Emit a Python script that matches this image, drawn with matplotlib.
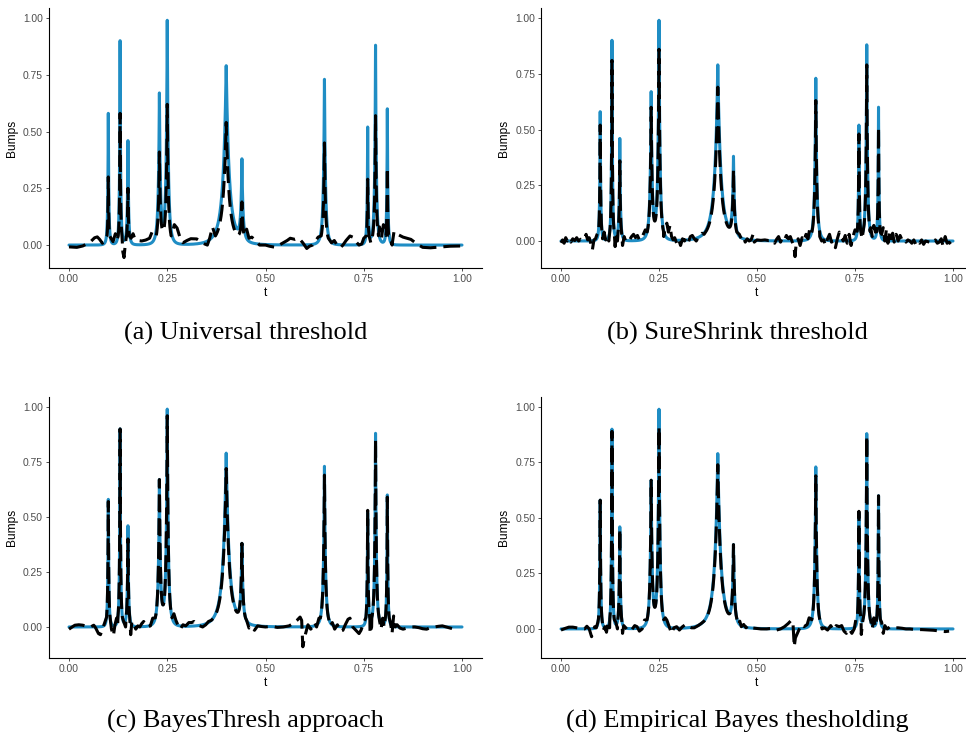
import numpy as np
import matplotlib
matplotlib.use("Agg")
import matplotlib.pyplot as plt

# Bumps test function: bump positions, widths and the peak heights seen in the plot
peak_t = [0.10, 0.13, 0.15, 0.23, 0.25, 0.40, 0.44, 0.65, 0.76, 0.78, 0.81]
peak_w = [0.005, 0.005, 0.006, 0.01, 0.01, 0.03, 0.01, 0.01, 0.005, 0.008, 0.005]
true_peaks = [0.58, 0.90, 0.46, 0.67, 0.99, 0.79, 0.38, 0.73, 0.52, 0.88, 0.60]

# peak heights of the thresholded estimates
est_peaks_a = [0.30, 0.58, 0.25, 0.41, 0.62, 0.54, 0.19, 0.45, 0.29, 0.57, 0.34]
est_peaks_b = [0.52, 0.81, 0.36, 0.60, 0.86, 0.69, 0.32, 0.63, 0.48, 0.79, 0.51]
est_peaks_c = [0.57, 0.90, 0.40, 0.67, 0.96, 0.72, 0.38, 0.69, 0.53, 0.85, 0.59]
est_peaks_d = [0.58, 0.89, 0.45, 0.67, 0.91, 0.74, 0.38, 0.69, 0.53, 0.87, 0.60]

# (t, value) of the estimates away from the peaks
wiggle_a = [(0.000, -0.008), (0.020, -0.010), (0.035, -0.004), (0.045, 0.005), (0.055, 0.015),
            (0.065, 0.032), (0.072, 0.036), (0.078, 0.025), (0.085, 0.008), (0.090, 0.015),
            (0.112, 0.015), (0.118, 0.050), (0.122, 0.020), (0.137, -0.030), (0.140, -0.055),
            (0.143, 0.000), (0.158, 0.030), (0.163, 0.050), (0.168, 0.025), (0.175, 0.020),
            (0.185, 0.018), (0.195, 0.022), (0.205, 0.030), (0.212, 0.060), (0.258, 0.015),
            (0.264, 0.060), (0.268, 0.090), (0.275, 0.075), (0.283, 0.030), (0.290, 0.010),
            (0.300, 0.020), (0.310, 0.028), (0.325, 0.027), (0.335, 0.015), (0.345, 0.005),
            (0.352, 0.000), (0.358, 0.030), (0.365, 0.080), (0.452, 0.070), (0.458, 0.030),
            (0.465, 0.035), (0.475, 0.020), (0.485, 0.000), (0.500, 0.000), (0.510, -0.005),
            (0.525, -0.010), (0.540, 0.005), (0.555, 0.020), (0.563, 0.030), (0.575, 0.025),
            (0.585, 0.030), (0.595, 0.010), (0.605, -0.015), (0.612, -0.005), (0.620, 0.000),
            (0.628, 0.020), (0.634, 0.035), (0.660, 0.030), (0.668, 0.010), (0.675, 0.020),
            (0.682, 0.000), (0.690, -0.012), (0.697, 0.000), (0.705, 0.020), (0.715, 0.040),
            (0.722, 0.035), (0.730, 0.015), (0.738, 0.000), (0.745, 0.005), (0.750, 0.030),
            (0.768, 0.010), (0.790, 0.080), (0.795, 0.030), (0.800, 0.090), (0.804, 0.050),
            (0.818, 0.040), (0.822, 0.000), (0.827, 0.060), (0.833, 0.050), (0.850, 0.035),
            (0.860, 0.030), (0.870, 0.025), (0.880, 0.012), (0.890, 0.000), (0.900, -0.010),
            (0.920, -0.012), (0.950, -0.008), (0.970, -0.005), (1.000, -0.004)]

wiggle_b = [(0.000, -0.008), (0.004, 0.005), (0.008, -0.010), (0.012, 0.015), (0.016, 0.000),
            (0.020, 0.012), (0.025, -0.005), (0.030, 0.010), (0.035, 0.002), (0.040, 0.015),
            (0.045, 0.000), (0.050, 0.008), (0.055, 0.003), (0.060, 0.012), (0.064, 0.030),
            (0.068, 0.005), (0.072, 0.015), (0.076, -0.010), (0.080, -0.040), (0.084, 0.005),
            (0.088, 0.010), (0.092, 0.030), (0.106, 0.010), (0.110, 0.040), (0.114, 0.005),
            (0.118, 0.020), (0.122, 0.000), (0.138, -0.025), (0.141, 0.030), (0.144, 0.000),
            (0.157, -0.020), (0.161, 0.020), (0.165, 0.000), (0.170, 0.010), (0.175, 0.005),
            (0.180, 0.020), (0.185, 0.030), (0.190, 0.015), (0.195, 0.025), (0.200, 0.005),
            (0.205, 0.010), (0.210, 0.030), (0.215, 0.050), (0.262, 0.020), (0.266, 0.060),
            (0.270, 0.080), (0.274, 0.040), (0.278, 0.070), (0.282, 0.020), (0.286, 0.005),
            (0.290, 0.015), (0.295, -0.010), (0.300, 0.008), (0.305, -0.020), (0.310, 0.010),
            (0.315, 0.000), (0.320, 0.015), (0.325, -0.005), (0.330, 0.020), (0.335, 0.025),
            (0.340, 0.010), (0.345, 0.000), (0.350, 0.015), (0.355, 0.020), (0.360, 0.035),
            (0.365, 0.030), (0.370, 0.060), (0.455, 0.030), (0.460, 0.010), (0.465, 0.020),
            (0.470, -0.005), (0.475, 0.010), (0.480, 0.000), (0.485, 0.005), (0.490, 0.030),
            (0.493, -0.005), (0.500, 0.005), (0.510, 0.003), (0.520, 0.005), (0.530, 0.002),
            (0.540, 0.003), (0.545, -0.010), (0.550, 0.008), (0.555, 0.020), (0.560, -0.005),
            (0.565, 0.015), (0.570, 0.005), (0.575, 0.025), (0.580, 0.010), (0.585, 0.020),
            (0.590, -0.005), (0.594, -0.020), (0.597, -0.070), (0.600, -0.010), (0.605, 0.010),
            (0.610, -0.020), (0.615, 0.015), (0.620, 0.000), (0.625, 0.030), (0.630, 0.010),
            (0.634, 0.050), (0.638, 0.030), (0.660, 0.020), (0.665, 0.000), (0.670, 0.005),
            (0.675, -0.020), (0.680, 0.010), (0.685, 0.030), (0.690, -0.005), (0.695, 0.000),
            (0.700, -0.030), (0.705, 0.010), (0.710, 0.040), (0.715, 0.020), (0.720, 0.000),
            (0.725, 0.025), (0.730, -0.010), (0.735, 0.030), (0.740, -0.020), (0.745, 0.020),
            (0.750, 0.050), (0.768, 0.010), (0.790, 0.060), (0.794, 0.020), (0.798, 0.070),
            (0.802, 0.040), (0.818, 0.030), (0.822, 0.060), (0.826, 0.000), (0.830, 0.050),
            (0.834, -0.010), (0.838, 0.040), (0.842, 0.010), (0.846, 0.035), (0.850, -0.005),
            (0.855, 0.030), (0.860, 0.000), (0.865, 0.025), (0.870, 0.005), (0.875, 0.010),
            (0.880, -0.005), (0.885, 0.005), (0.890, 0.000), (0.895, -0.010), (0.900, 0.005),
            (0.905, -0.015), (0.910, 0.000), (0.915, -0.010), (0.920, 0.005), (0.925, -0.015),
            (0.930, 0.000), (0.940, -0.005), (0.945, -0.010), (0.950, -0.005), (0.955, 0.005),
            (0.960, -0.010), (0.965, -0.005), (0.970, 0.010), (0.975, -0.025), (0.980, 0.020),
            (0.985, -0.010), (0.990, -0.005), (0.995, -0.015), (1.000, -0.005)]

wiggle_c = [(0.000, -0.010), (0.008, 0.000), (0.015, 0.008), (0.025, 0.010), (0.035, 0.008),
            (0.045, 0.003), (0.055, 0.000), (0.063, 0.008), (0.068, -0.005), (0.075, -0.030),
            (0.080, -0.035), (0.085, -0.010), (0.090, 0.015), (0.108, -0.010), (0.113, -0.040),
            (0.117, 0.010), (0.121, 0.040), (0.124, 0.010), (0.135, -0.040), (0.140, 0.020),
            (0.144, 0.000), (0.157, -0.035), (0.160, 0.025), (0.165, 0.010), (0.170, -0.010),
            (0.175, 0.005), (0.180, 0.000), (0.185, 0.015), (0.190, 0.025), (0.195, 0.010),
            (0.200, 0.000), (0.207, 0.005), (0.213, 0.040), (0.262, 0.020), (0.267, 0.060),
            (0.272, 0.030), (0.278, 0.005), (0.283, -0.010), (0.290, 0.010), (0.297, 0.005),
            (0.305, 0.020), (0.312, 0.020), (0.318, 0.025), (0.325, 0.010), (0.333, 0.005),
            (0.340, 0.000), (0.348, 0.010), (0.355, 0.025), (0.362, 0.030), (0.368, 0.040),
            (0.452, 0.030), (0.458, -0.005), (0.465, 0.005), (0.472, -0.015), (0.480, 0.005),
            (0.490, 0.002), (0.500, 0.000), (0.515, 0.003), (0.530, -0.002), (0.545, 0.000),
            (0.560, 0.005), (0.570, 0.015), (0.580, 0.030), (0.588, 0.045), (0.592, 0.030),
            (0.595, -0.090), (0.598, -0.060), (0.602, -0.030), (0.608, 0.010), (0.615, -0.010),
            (0.620, 0.000), (0.625, 0.020), (0.630, 0.000), (0.636, 0.040), (0.660, 0.020),
            (0.665, 0.005), (0.670, 0.020), (0.676, -0.010), (0.683, 0.010), (0.690, -0.020),
            (0.697, -0.015), (0.703, 0.010), (0.710, 0.035), (0.715, 0.040), (0.722, 0.000),
            (0.730, -0.015), (0.738, -0.030), (0.743, -0.015), (0.750, 0.020), (0.766, -0.030),
            (0.770, 0.000), (0.790, 0.030), (0.794, -0.010), (0.798, 0.040), (0.802, 0.000),
            (0.818, 0.020), (0.822, -0.030), (0.826, 0.050), (0.830, 0.000), (0.835, 0.010),
            (0.842, -0.005), (0.850, -0.010), (0.860, -0.005), (0.870, 0.000), (0.880, 0.000),
            (0.890, -0.003), (0.900, -0.008), (0.910, -0.010), (0.920, -0.003), (0.930, 0.000),
            (0.940, 0.003), (0.950, 0.005), (0.960, 0.000), (0.970, -0.005), (0.980, -0.010),
            (0.990, -0.012)]

wiggle_d = [(0.000, -0.005), (0.010, 0.002), (0.020, 0.008), (0.030, 0.008), (0.040, 0.005),
            (0.050, 0.002), (0.060, 0.000), (0.066, 0.012), (0.072, 0.000), (0.078, -0.035),
            (0.082, -0.010), (0.086, 0.010), (0.090, 0.005), (0.094, 0.030), (0.108, -0.005),
            (0.112, 0.010), (0.116, -0.015), (0.120, 0.030), (0.124, 0.005), (0.136, -0.030),
            (0.140, 0.030), (0.144, 0.000), (0.157, -0.020), (0.160, 0.015), (0.165, 0.005),
            (0.172, -0.010), (0.180, -0.005), (0.188, 0.015), (0.194, 0.010), (0.200, -0.010),
            (0.207, 0.000), (0.213, 0.040), (0.262, 0.030), (0.266, 0.050), (0.270, 0.040),
            (0.276, 0.010), (0.282, -0.020), (0.288, 0.005), (0.295, 0.010), (0.302, -0.005),
            (0.310, 0.010), (0.318, 0.020), (0.325, 0.010), (0.333, 0.005), (0.340, 0.005),
            (0.350, 0.015), (0.358, 0.025), (0.365, 0.035), (0.370, 0.050), (0.452, 0.020),
            (0.456, 0.035), (0.460, 0.010), (0.466, 0.020), (0.472, 0.005), (0.478, 0.015),
            (0.485, 0.005), (0.495, 0.003), (0.510, 0.000), (0.525, 0.000), (0.540, 0.003),
            (0.550, -0.005), (0.560, 0.000), (0.570, 0.010), (0.580, 0.025), (0.588, 0.040),
            (0.592, 0.020), (0.595, -0.080), (0.598, -0.040), (0.603, -0.020), (0.608, 0.000),
            (0.614, 0.020), (0.620, 0.010), (0.628, 0.020), (0.633, 0.050), (0.660, 0.010),
            (0.666, 0.000), (0.672, 0.005), (0.680, -0.005), (0.688, 0.015), (0.695, -0.005),
            (0.702, 0.015), (0.710, 0.010), (0.716, 0.015), (0.722, -0.010), (0.728, -0.020),
            (0.735, 0.000), (0.742, -0.020), (0.748, 0.000), (0.752, 0.040), (0.766, -0.025),
            (0.770, 0.000), (0.790, 0.040), (0.794, 0.000), (0.798, 0.050), (0.802, 0.010),
            (0.818, 0.030), (0.822, -0.020), (0.826, 0.015), (0.832, 0.000), (0.840, 0.010),
            (0.850, 0.005), (0.860, 0.005), (0.870, 0.003), (0.880, 0.000), (0.890, 0.000),
            (0.900, -0.002), (0.910, -0.003), (0.920, -0.003), (0.930, -0.004), (0.940, -0.005),
            (0.950, -0.006), (0.960, -0.008), (0.970, -0.010), (0.980, -0.012), (0.990, -0.010)]

captions = ["(a) Universal threshold", "(b) SureShrink threshold",
            "(c) BayesThresh approach", "(d) Empirical Bayes thesholding"]
tick_vals = [0.0, 0.25, 0.5, 0.75, 1.0]
tick_labels = ["0.00", "0.25", "0.50", "0.75", "1.00"]

BLUE = "#1f8dc4"
THRESH = 0.04


def kernel(t, tj, wj):
    return (1 + np.abs(t - tj) / wj) ** -4


def bumps(t, peaks):
    pt = np.array(peak_t)
    pw = np.array(peak_w)
    # amplitudes so the summed curve hits the read peak heights
    K = kernel(pt[:, None], pt[None, :], pw[None, :])
    amp = np.linalg.solve(K, np.array(peaks))
    t = np.asarray(t, dtype=float)
    return sum(a * kernel(t, tj, wj) for a, tj, wj in zip(amp, peak_t, peak_w))


grid = np.union1d(np.linspace(0, 1, 4001), peak_t)


def estimate_curve(peaks, wiggle):
    model = bumps(grid, peaks)
    keep = model > THRESH
    wt = np.array([p[0] for p in wiggle])
    wy = np.array([p[1] for p in wiggle])
    ok = bumps(wt, peaks) <= THRESH
    t = np.concatenate([grid[keep], wt[ok]])
    y = np.concatenate([model[keep], wy[ok]])
    order = np.argsort(t)
    return t[order], y[order]


plt.rcParams['font.family'] = ['Liberation Sans', 'DejaVu Sans']

fig = plt.figure(figsize=(9.66, 7.40), dpi=100)
W, H = 966.0, 740.0

panels = [
    # zero_x, one_x, top, bottom (pixels), ylim, estimate
    (69, 462, 8, 268, (-0.101, 1.044), est_peaks_a, wiggle_a),
    (561, 953, 8, 268, (-0.121, 1.045), est_peaks_b, wiggle_b),
    (69, 462, 397, 658, (-0.141, 1.045), est_peaks_c, wiggle_c),
    (561, 953, 397, 658, (-0.131, 1.045), est_peaks_d, wiggle_d),
]
cap_pos = [(246, 333), (737, 333), (245, 721), (737, 721)]

true_curve = bumps(grid, true_peaks)

for (x0, x1, top, bot, ylim, est, wig), cap, (cx, cy) in zip(panels, captions, cap_pos):
    unit = x1 - x0
    left = x0 - 0.05 * unit
    ax = fig.add_axes([left / W, 1 - bot / H, 1.1 * unit / W, (bot - top) / H])
    ax.plot(grid, true_curve, color=BLUE, lw=2.2,
            solid_joinstyle='round', solid_capstyle='round')
    et, ey = estimate_curve(est, wig)
    ax.plot(et, ey, color="black", lw=2.2, dashes=(5.5, 2.3),
            dash_joinstyle='round', dash_capstyle='butt')
    ax.set_xlim(-0.05, 1.05)
    ax.set_ylim(*ylim)
    ax.set_xticks(tick_vals)
    ax.set_xticklabels(tick_labels)
    ax.set_yticks(tick_vals)
    ax.set_yticklabels(tick_labels)
    for s in ["top", "right"]:
        ax.spines[s].set_visible(False)
    for s in ["left", "bottom"]:
        ax.spines[s].set_linewidth(0.8)
    ax.tick_params(length=2.5, width=0.6, color="#333333", labelcolor="#4d4d4d",
                   labelsize=7.4, pad=2)
    ax.set_xlabel("t", fontsize=8.6, labelpad=2)
    ax.set_ylabel("Bumps", fontsize=8.6, labelpad=4)
    fig.text(cx / W, 1 - cy / H, cap, ha="center", va="center",
             family=["Liberation Serif", "DejaVu Serif"], fontsize=19)

fig.savefig("out.png", dpi=100)
